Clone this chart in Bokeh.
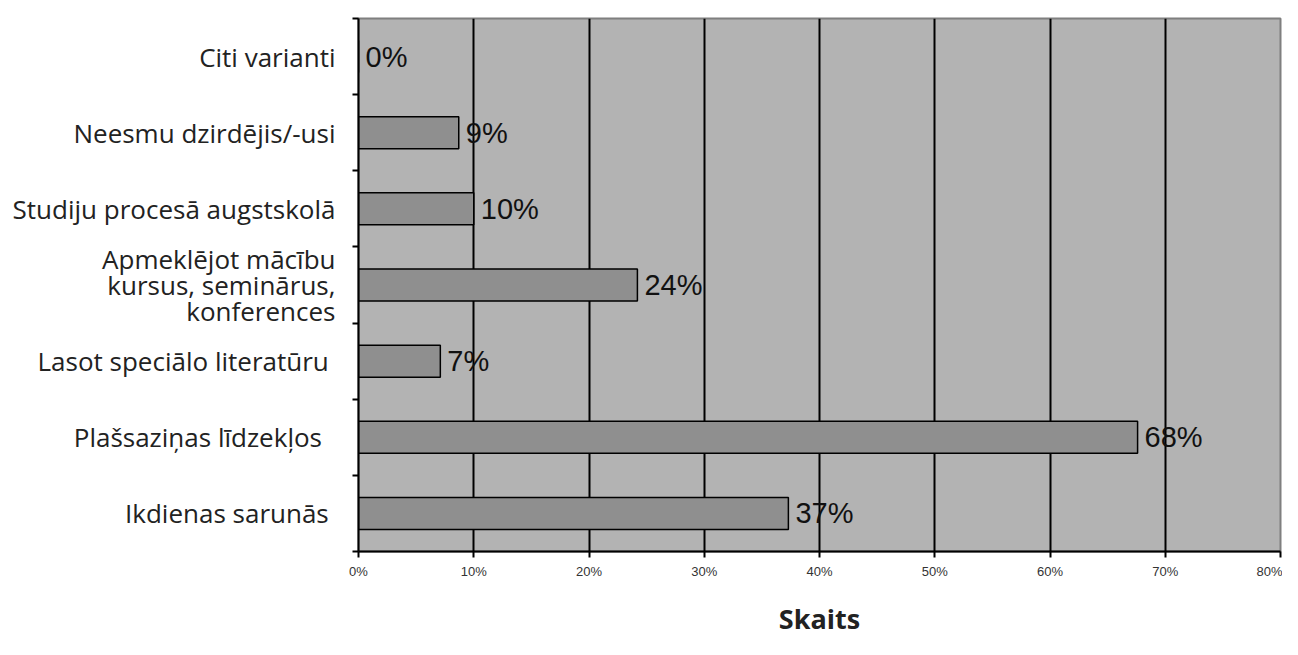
from bokeh.plotting import figure
from bokeh.models import (ColumnDataSource, Range1d, FixedTicker, LabelSet)
from bokeh.core.properties import value
from bokeh.embed import file_html
from bokeh.resources import INLINE

# ---- data (bottom to top) ----
categories = [
    "Ikdienas sarunās ",
    "Plašsaziņas līdzekļos  ",
    "Lasot speciālo literatūru ",
    "Apmeklējot mācību\nkursus, seminārus,\nkonferences",
    "Studiju procesā augstskolā",
    "Neesmu dzirdējis/-usi",
    "Citi varianti",
]
values = [37.3, 67.6, 7.1, 24.2, 10.0, 8.7, 0.0]
value_labels = ["37%", "68%", "7%", "24%", "10%", "9%", "0%"]
x_ticks = [0, 10, 20, 30, 40, 50, 60, 70, 80]
x_tick_labels = ["0%", "10%", "20%", "30%", "40%", "50%", "60%", "70%", "80%"]
x_title = "Skaits"

ypos = [i + 0.5 for i in range(len(categories))]
src = ColumnDataSource(dict(y=ypos, v=values, lab=value_labels))

p = figure(width=1282, height=639, output_backend="svg", toolbar_location=None,
           x_range=Range1d(0, 80), y_range=Range1d(0, len(categories)),
           min_border_left=358, min_border_right=2, min_border_top=18,
           min_border_bottom=87)

p.background_fill_color = "#b3b3b3"
p.border_fill_color = "white"
p.outline_line_color = "#7f7f7f"
p.outline_line_width = 2

p.hbar(y="y", right="v", left=0, height=0.42, source=src,
       fill_color="#8f8f8f", line_color="black", line_width=1.5)

# x axis
p.xaxis.ticker = FixedTicker(ticks=x_ticks)
p.xaxis.major_label_overrides = {t: l for t, l in zip(x_ticks, x_tick_labels)}
p.xaxis.major_label_text_font = "Liberation Sans"
p.xaxis.major_label_text_font_size = "13px"
p.xaxis.major_label_text_color = "#333333"
p.xaxis.axis_line_color = "black"
p.xaxis.axis_line_width = 2
p.xaxis.major_tick_line_color = "black"
p.xaxis.major_tick_line_width = 2
p.xaxis.major_tick_out = 6
p.xaxis.major_tick_in = 0
p.xaxis.minor_tick_line_color = None
p.xaxis.major_label_standoff = 6
p.xaxis.axis_label = x_title
p.xaxis.axis_label_text_font = "Open Sans"
p.xaxis.axis_label_text_font_style = "bold"
p.xaxis.axis_label_text_font_size = "27px"
p.xaxis.axis_label_text_color = "#222222"
p.xaxis.axis_label_standoff = 18

# y axis: labels at band centres, tick marks at band boundaries (minor ticks)
p.yaxis.ticker = FixedTicker(ticks=ypos, minor_ticks=list(range(len(categories) + 1)))
p.yaxis.major_label_overrides = {y: c for y, c in zip(ypos, categories)}
p.yaxis.major_label_text_font = "Open Sans"
p.yaxis.major_label_text_font_size = "26px"
p.yaxis.major_label_text_color = "#222222"
p.yaxis.major_label_text_line_height = 0.72
p.yaxis.major_label_standoff = 17
p.yaxis.axis_line_color = "black"
p.yaxis.axis_line_width = 2
p.yaxis.major_tick_line_color = None
p.yaxis.minor_tick_line_color = "black"
p.yaxis.minor_tick_line_width = 2
p.yaxis.minor_tick_out = 6
p.yaxis.minor_tick_in = 0

# grid
p.xgrid.grid_line_color = "black"
p.xgrid.grid_line_width = 2
p.ygrid.grid_line_color = None

# value labels
p.add_layout(LabelSet(x="v", y="y", text="lab", source=src, x_offset=7,
                      text_align="left", text_baseline="middle",
                      text_font=value("Liberation Sans"), text_font_size=value("29px"),
                      text_color="#111111"))

open("out.html", "w").write(file_html(p, INLINE))
